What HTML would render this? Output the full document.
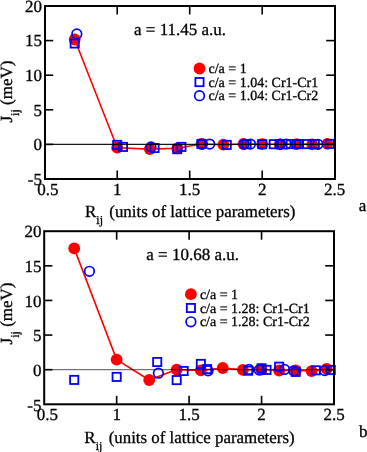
<!DOCTYPE html>
<html><head><meta charset="utf-8"><style>
html,body{margin:0;padding:0;background:#fff;overflow:hidden;}
body{position:relative;width:367px;height:452px;}
svg{display:block;position:absolute;left:0;top:0;will-change:transform;}
#g{filter:blur(0.35px);}
#t{}
text{white-space:pre;font-family:"Liberation Serif",serif;text-rendering:geometricPrecision;stroke:#000;stroke-width:0.3px;}
</style></head><body>
<svg id="g" width="367" height="452" viewBox="0 0 367 452">
<g>
<polyline points="74.73,39.50 117.20,147.70 149.78,149.10 177.26,148.30 201.46,144.00 223.35,144.70 243.47,144.00 262.20,144.20 279.79,144.30 296.43,144.10 312.25,144.30 327.38,143.90" fill="none" stroke="#ff0000" stroke-width="1.6" stroke-linejoin="round"/>
<circle cx="74.73" cy="39.50" r="5.9" fill="#ff0000"/>
<circle cx="117.20" cy="147.70" r="5.9" fill="#ff0000"/>
<circle cx="149.78" cy="149.10" r="5.9" fill="#ff0000"/>
<circle cx="177.26" cy="148.30" r="5.9" fill="#ff0000"/>
<circle cx="201.46" cy="144.00" r="5.9" fill="#ff0000"/>
<circle cx="223.35" cy="144.70" r="5.9" fill="#ff0000"/>
<circle cx="243.47" cy="144.00" r="5.9" fill="#ff0000"/>
<circle cx="262.20" cy="144.20" r="5.9" fill="#ff0000"/>
<circle cx="279.79" cy="144.30" r="5.9" fill="#ff0000"/>
<circle cx="296.43" cy="144.10" r="5.9" fill="#ff0000"/>
<circle cx="312.25" cy="144.30" r="5.9" fill="#ff0000"/>
<circle cx="327.38" cy="143.90" r="5.9" fill="#ff0000"/>
<rect x="70.63" y="39.40" width="8.2" height="8.2" fill="none" stroke="#0000ff" stroke-width="1.8"/>
<rect x="113.10" y="140.80" width="8.2" height="8.2" fill="none" stroke="#0000ff" stroke-width="1.8"/>
<rect x="118.90" y="142.80" width="8.2" height="8.2" fill="none" stroke="#0000ff" stroke-width="1.8"/>
<rect x="150.45" y="143.90" width="8.2" height="8.2" fill="none" stroke="#0000ff" stroke-width="1.8"/>
<rect x="173.16" y="145.10" width="8.2" height="8.2" fill="none" stroke="#0000ff" stroke-width="1.8"/>
<rect x="177.31" y="142.80" width="8.2" height="8.2" fill="none" stroke="#0000ff" stroke-width="1.8"/>
<rect x="197.36" y="139.80" width="8.2" height="8.2" fill="none" stroke="#0000ff" stroke-width="1.8"/>
<rect x="222.65" y="140.80" width="8.2" height="8.2" fill="none" stroke="#0000ff" stroke-width="1.8"/>
<rect x="242.51" y="140.10" width="8.2" height="8.2" fill="none" stroke="#0000ff" stroke-width="1.8"/>
<rect x="258.10" y="140.10" width="8.2" height="8.2" fill="none" stroke="#0000ff" stroke-width="1.8"/>
<rect x="269.70" y="140.10" width="8.2" height="8.2" fill="none" stroke="#0000ff" stroke-width="1.8"/>
<rect x="275.69" y="140.10" width="8.2" height="8.2" fill="none" stroke="#0000ff" stroke-width="1.8"/>
<rect x="286.66" y="140.00" width="8.2" height="8.2" fill="none" stroke="#0000ff" stroke-width="1.8"/>
<rect x="292.33" y="140.00" width="8.2" height="8.2" fill="none" stroke="#0000ff" stroke-width="1.8"/>
<rect x="294.93" y="140.00" width="8.2" height="8.2" fill="none" stroke="#0000ff" stroke-width="1.8"/>
<rect x="302.76" y="140.00" width="8.2" height="8.2" fill="none" stroke="#0000ff" stroke-width="1.8"/>
<rect x="310.68" y="140.00" width="8.2" height="8.2" fill="none" stroke="#0000ff" stroke-width="1.8"/>
<rect x="325.67" y="139.80" width="8.2" height="8.2" fill="none" stroke="#0000ff" stroke-width="1.8"/>
<circle cx="76.80" cy="33.90" r="4.8" fill="none" stroke="#0000ff" stroke-width="1.7"/>
<circle cx="150.99" cy="146.90" r="4.8" fill="none" stroke="#0000ff" stroke-width="1.7"/>
<circle cx="202.40" cy="144.10" r="4.8" fill="none" stroke="#0000ff" stroke-width="1.7"/>
<circle cx="209.71" cy="144.10" r="4.8" fill="none" stroke="#0000ff" stroke-width="1.7"/>
<circle cx="244.22" cy="144.10" r="4.8" fill="none" stroke="#0000ff" stroke-width="1.7"/>
<circle cx="250.45" cy="144.10" r="4.8" fill="none" stroke="#0000ff" stroke-width="1.7"/>
<circle cx="280.47" cy="144.10" r="4.8" fill="none" stroke="#0000ff" stroke-width="1.7"/>
<circle cx="285.98" cy="144.10" r="4.8" fill="none" stroke="#0000ff" stroke-width="1.7"/>
<circle cx="317.88" cy="144.30" r="4.8" fill="none" stroke="#0000ff" stroke-width="1.7"/>
<line x1="45" y1="144.40" x2="335" y2="144.40" stroke="#000" stroke-width="1.3" stroke-opacity="0.9"/>
</g>
<rect x="45" y="6" width="290" height="173" fill="none" stroke="#000" stroke-width="2"/>
<line x1="117.20" y1="6" x2="117.20" y2="14.5" stroke="#000" stroke-width="1.6"/>
<line x1="117.20" y1="179" x2="117.20" y2="170.5" stroke="#000" stroke-width="1.6"/>
<line x1="189.70" y1="6" x2="189.70" y2="14.5" stroke="#000" stroke-width="1.6"/>
<line x1="189.70" y1="179" x2="189.70" y2="170.5" stroke="#000" stroke-width="1.6"/>
<line x1="262.20" y1="6" x2="262.20" y2="14.5" stroke="#000" stroke-width="1.6"/>
<line x1="262.20" y1="179" x2="262.20" y2="170.5" stroke="#000" stroke-width="1.6"/>
<line x1="45" y1="144.40" x2="53.2" y2="144.40" stroke="#000" stroke-width="1.6"/>
<line x1="335" y1="144.40" x2="326.2" y2="144.40" stroke="#000" stroke-width="1.6"/>
<line x1="45" y1="109.80" x2="53.2" y2="109.80" stroke="#000" stroke-width="1.6"/>
<line x1="335" y1="109.80" x2="326.2" y2="109.80" stroke="#000" stroke-width="1.6"/>
<line x1="45" y1="75.20" x2="53.2" y2="75.20" stroke="#000" stroke-width="1.6"/>
<line x1="335" y1="75.20" x2="326.2" y2="75.20" stroke="#000" stroke-width="1.6"/>
<line x1="45" y1="40.60" x2="53.2" y2="40.60" stroke="#000" stroke-width="1.6"/>
<line x1="335" y1="40.60" x2="326.2" y2="40.60" stroke="#000" stroke-width="1.6"/>
<g>
<polyline points="74.21,248.40 116.65,359.60 149.21,380.00 176.67,369.60 200.85,370.40 222.73,368.00 242.83,369.90 261.55,369.50 279.13,370.50 295.76,370.30 311.57,371.10 326.68,368.90" fill="none" stroke="#ff0000" stroke-width="1.6" stroke-linejoin="round"/>
<circle cx="74.21" cy="248.40" r="5.9" fill="#ff0000"/>
<circle cx="116.65" cy="359.60" r="5.9" fill="#ff0000"/>
<circle cx="149.21" cy="380.00" r="5.9" fill="#ff0000"/>
<circle cx="176.67" cy="369.60" r="5.9" fill="#ff0000"/>
<circle cx="200.85" cy="370.40" r="5.9" fill="#ff0000"/>
<circle cx="222.73" cy="368.00" r="5.9" fill="#ff0000"/>
<circle cx="242.83" cy="369.90" r="5.9" fill="#ff0000"/>
<circle cx="261.55" cy="369.50" r="5.9" fill="#ff0000"/>
<circle cx="279.13" cy="370.50" r="5.9" fill="#ff0000"/>
<circle cx="295.76" cy="370.30" r="5.9" fill="#ff0000"/>
<circle cx="311.57" cy="371.10" r="5.9" fill="#ff0000"/>
<circle cx="326.68" cy="368.90" r="5.9" fill="#ff0000"/>
<rect x="70.11" y="375.80" width="8.2" height="8.2" fill="none" stroke="#0000ff" stroke-width="1.8"/>
<rect x="112.55" y="372.80" width="8.2" height="8.2" fill="none" stroke="#0000ff" stroke-width="1.8"/>
<rect x="153.12" y="357.90" width="8.2" height="8.2" fill="none" stroke="#0000ff" stroke-width="1.8"/>
<rect x="172.57" y="376.00" width="8.2" height="8.2" fill="none" stroke="#0000ff" stroke-width="1.8"/>
<rect x="179.54" y="366.90" width="8.2" height="8.2" fill="none" stroke="#0000ff" stroke-width="1.8"/>
<rect x="196.75" y="359.80" width="8.2" height="8.2" fill="none" stroke="#0000ff" stroke-width="1.8"/>
<rect x="203.01" y="365.00" width="8.2" height="8.2" fill="none" stroke="#0000ff" stroke-width="1.8"/>
<rect x="244.05" y="366.60" width="8.2" height="8.2" fill="none" stroke="#0000ff" stroke-width="1.8"/>
<rect x="257.45" y="364.20" width="8.2" height="8.2" fill="none" stroke="#0000ff" stroke-width="1.8"/>
<rect x="262.42" y="365.80" width="8.2" height="8.2" fill="none" stroke="#0000ff" stroke-width="1.8"/>
<rect x="275.03" y="362.60" width="8.2" height="8.2" fill="none" stroke="#0000ff" stroke-width="1.8"/>
<rect x="291.66" y="367.80" width="8.2" height="8.2" fill="none" stroke="#0000ff" stroke-width="1.8"/>
<rect x="311.72" y="366.20" width="8.2" height="8.2" fill="none" stroke="#0000ff" stroke-width="1.8"/>
<rect x="326.65" y="365.90" width="8.2" height="8.2" fill="none" stroke="#0000ff" stroke-width="1.8"/>
<circle cx="89.44" cy="271.30" r="4.8" fill="none" stroke="#0000ff" stroke-width="1.7"/>
<circle cx="158.42" cy="373.20" r="4.8" fill="none" stroke="#0000ff" stroke-width="1.7"/>
<circle cx="208.05" cy="370.80" r="4.8" fill="none" stroke="#0000ff" stroke-width="1.7"/>
<circle cx="248.94" cy="369.40" r="4.8" fill="none" stroke="#0000ff" stroke-width="1.7"/>
<circle cx="259.23" cy="370.00" r="4.8" fill="none" stroke="#0000ff" stroke-width="1.7"/>
<circle cx="284.53" cy="369.40" r="4.8" fill="none" stroke="#0000ff" stroke-width="1.7"/>
<circle cx="293.69" cy="370.80" r="4.8" fill="none" stroke="#0000ff" stroke-width="1.7"/>
<circle cx="324.80" cy="370.50" r="4.8" fill="none" stroke="#0000ff" stroke-width="1.7"/>
<line x1="44.2" y1="369.68" x2="334" y2="369.68" stroke="#000" stroke-width="1.2" stroke-opacity="0.55"/>
</g>
<rect x="44.2" y="231.2" width="289.8" height="173.10000000000002" fill="none" stroke="#000" stroke-width="2"/>
<line x1="116.65" y1="231.2" x2="116.65" y2="239.7" stroke="#000" stroke-width="1.6"/>
<line x1="116.65" y1="404.3" x2="116.65" y2="395.8" stroke="#000" stroke-width="1.6"/>
<line x1="189.10" y1="231.2" x2="189.10" y2="239.7" stroke="#000" stroke-width="1.6"/>
<line x1="189.10" y1="404.3" x2="189.10" y2="395.8" stroke="#000" stroke-width="1.6"/>
<line x1="261.55" y1="231.2" x2="261.55" y2="239.7" stroke="#000" stroke-width="1.6"/>
<line x1="261.55" y1="404.3" x2="261.55" y2="395.8" stroke="#000" stroke-width="1.6"/>
<line x1="44.2" y1="369.68" x2="52.400000000000006" y2="369.68" stroke="#000" stroke-width="1.6"/>
<line x1="334" y1="369.68" x2="325.2" y2="369.68" stroke="#000" stroke-width="1.6"/>
<line x1="44.2" y1="335.06" x2="52.400000000000006" y2="335.06" stroke="#000" stroke-width="1.6"/>
<line x1="334" y1="335.06" x2="325.2" y2="335.06" stroke="#000" stroke-width="1.6"/>
<line x1="44.2" y1="300.44" x2="52.400000000000006" y2="300.44" stroke="#000" stroke-width="1.6"/>
<line x1="334" y1="300.44" x2="325.2" y2="300.44" stroke="#000" stroke-width="1.6"/>
<line x1="44.2" y1="265.82" x2="52.400000000000006" y2="265.82" stroke="#000" stroke-width="1.6"/>
<line x1="334" y1="265.82" x2="325.2" y2="265.82" stroke="#000" stroke-width="1.6"/>
<circle cx="199.50" cy="68.50" r="5.9" fill="#ff0000"/>
<rect x="195.40" y="78.00" width="8.2" height="8.2" fill="none" stroke="#0000ff" stroke-width="1.8"/>
<circle cx="199.50" cy="95.70" r="4.8" fill="none" stroke="#0000ff" stroke-width="1.7"/>
<circle cx="190.90" cy="294.20" r="5.9" fill="#ff0000"/>
<rect x="186.80" y="303.90" width="8.2" height="8.2" fill="none" stroke="#0000ff" stroke-width="1.8"/>
<circle cx="190.90" cy="321.80" r="4.8" fill="none" stroke="#0000ff" stroke-width="1.7"/>
</svg>
<svg id="t" width="367" height="452" viewBox="0 0 367 452">
<g fill="#000">
<text x="47.9" y="194.6" font-size="17" text-anchor="middle" >0.5</text>
<text x="117.2" y="194.6" font-size="17" text-anchor="middle" >1</text>
<text x="189.7" y="194.6" font-size="17" text-anchor="middle" >1.5</text>
<text x="262.2" y="194.6" font-size="17" text-anchor="middle" >2</text>
<text x="334.7" y="194.6" font-size="17" text-anchor="middle" >2.5</text>
<text x="42" y="11.8" font-size="17" text-anchor="end" >20</text>
<text x="42" y="46.4" font-size="17" text-anchor="end" >15</text>
<text x="42" y="81.0" font-size="17" text-anchor="end" >10</text>
<text x="42" y="115.6" font-size="17" text-anchor="end" >5</text>
<text x="42" y="150.2" font-size="17" text-anchor="end" >0</text>
<text x="42" y="184.8" font-size="17" text-anchor="end" >-5</text>
<text x="47.4" y="420.2" font-size="17" text-anchor="middle" >0.5</text>
<text x="116.7" y="420.2" font-size="17" text-anchor="middle" >1</text>
<text x="189.1" y="420.2" font-size="17" text-anchor="middle" >1.5</text>
<text x="261.6" y="420.2" font-size="17" text-anchor="middle" >2</text>
<text x="334.0" y="420.2" font-size="17" text-anchor="middle" >2.5</text>
<text x="41.5" y="237.4" font-size="17" text-anchor="end" >20</text>
<text x="41.5" y="272.0" font-size="17" text-anchor="end" >15</text>
<text x="41.5" y="306.6" font-size="17" text-anchor="end" >10</text>
<text x="41.5" y="341.3" font-size="17" text-anchor="end" >5</text>
<text x="41.5" y="375.9" font-size="17" text-anchor="end" >0</text>
<text x="41.5" y="410.5" font-size="17" text-anchor="end" >-5</text>
<text x="134" y="35.3" font-size="17" text-anchor="start" >a = 11.45 a.u.</text>
<text x="146.3" y="259.6" font-size="17" text-anchor="start" >a = 10.68 a.u.</text>
<text x="208.5" y="73.1" font-size="14" text-anchor="start" >c/a = 1</text>
<text x="208.5" y="86.7" font-size="14" text-anchor="start" >c/a = 1.04: Cr1-Cr1</text>
<text x="208.5" y="100.3" font-size="14" text-anchor="start" >c/a = 1.04: Cr1-Cr2</text>
<text x="199.9" y="298.8" font-size="14" text-anchor="start" >c/a = 1</text>
<text x="199.9" y="312.6" font-size="14" text-anchor="start" >c/a = 1.28: Cr1-Cr1</text>
<text x="199.9" y="326.4" font-size="14" text-anchor="start" >c/a = 1.28: Cr1-Cr2</text>
<text x="85" y="216.7" font-size="17">R<tspan font-size="12" dy="7.5">ij</tspan></text><text x="109.3" y="216.7" font-size="17" textLength="186.1" lengthAdjust="spacingAndGlyphs">(units of lattice parameters)</text>
<text x="84.3" y="442.5" font-size="17">R<tspan font-size="12" dy="7.5">ij</tspan></text><text x="108.7" y="442.5" font-size="17" textLength="185.9" lengthAdjust="spacingAndGlyphs">(units of lattice parameters)</text>
<text transform="translate(12.3,122.5) rotate(-90)" font-size="17">J<tspan font-size="12" dy="7">ij</tspan><tspan dy="-7"> (meV)</tspan></text>
<text transform="translate(11.8,344.4) rotate(-90)" font-size="17">J<tspan font-size="12" dy="7">ij</tspan><tspan dy="-7"> (meV)</tspan></text>
<text x="358.7" y="211" font-size="17" text-anchor="start" >a.</text>
<text x="359" y="436.8" font-size="17" text-anchor="start" >b</text>
</g>
</svg>
</body></html>
